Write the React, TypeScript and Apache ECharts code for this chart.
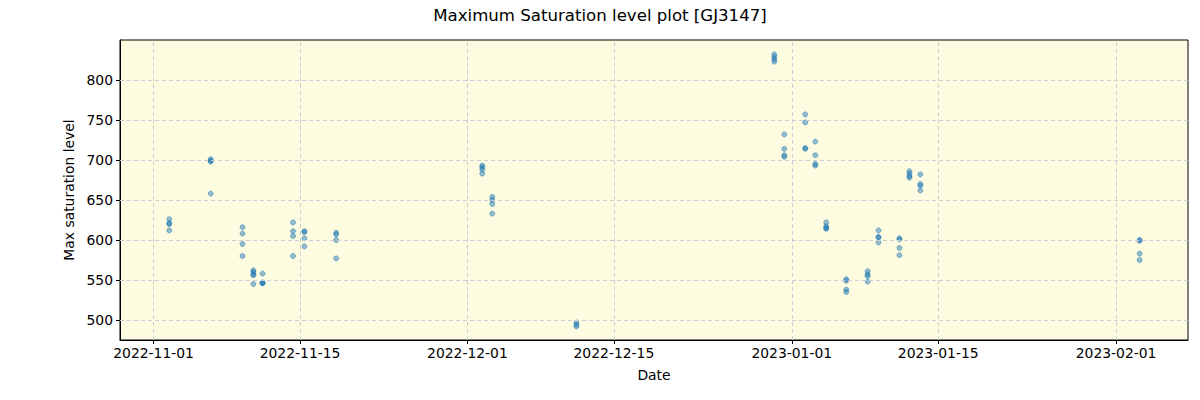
import React, { useEffect, useRef } from "react";
import * as echarts from "echarts";

const TITLE = "Maximum Saturation level plot [GJ3147]";
const X_NAME = "Date";
const Y_NAME = "Max saturation level";

const xTickLabels = [
  "2022-11-01",
  "2022-11-15",
  "2022-12-01",
  "2022-12-15",
  "2023-01-01",
  "2023-01-15",
  "2023-02-01",
];
const yTicks = [500, 550, 600, 650, 700, 750, 800];

const xRange = ["2022-10-28T19:00", "2023-02-07T21:00"];
const yRange = [475, 850];

const obsTimes = [
  "2022-11-02T12:00",
  "2022-11-06T11:00",
  "2022-11-09T12:00",
  "2022-11-10T13:00",
  "2022-11-11T10:00",
  "2022-11-14T08:00",
  "2022-11-15T10:00",
  "2022-11-18T11:00",
  "2022-12-02T10:00",
  "2022-12-03T09:00",
  "2022-12-11T10:00",
  "2022-12-30T08:00",
  "2022-12-31T07:00",
  "2023-01-02T07:00",
  "2023-01-03T06:00",
  "2023-01-04T07:00",
  "2023-01-06T05:00",
  "2023-01-08T06:00",
  "2023-01-09T07:00",
  "2023-01-11T07:00",
  "2023-01-12T06:00",
  "2023-01-13T07:00",
  "2023-02-03T06:00",
];

const obsValues = [
  [626, 621, 620, 612],
  [701, 699, 698, 658],
  [616, 608, 595, 580],
  [562, 560, 557, 556, 545],
  [558, 547, 546, 546],
  [622, 611, 605, 580],
  [611, 610, 602, 592],
  [609, 607, 600, 577],
  [693, 691, 688, 683],
  [654, 650, 645, 633],
  [497, 494, 492],
  [832, 829, 826, 823],
  [732, 714, 706, 704],
  [757, 747, 715, 714],
  [723, 706, 695, 693],
  [622, 617, 615, 614],
  [551, 549, 538, 535],
  [561, 557, 555, 548],
  [612, 604, 603, 597],
  [602, 601, 590, 581],
  [686, 683, 680, 678],
  [682, 670, 668, 662],
  [600, 599, 583, 575],
];

const toMs = (s: string) => Date.parse(s.length <= 10 ? s + "T00:00:00Z" : s + ":00Z");

export default function App() {
  const ref = useRef<HTMLDivElement>(null);

  useEffect(() => {
    document.body.style.margin = "0";
    if (!ref.current) return;
    const chart = echarts.init(ref.current, null, { renderer: "svg" });

    const points: [number, number][] = [];
    obsTimes.forEach((t, i) => {
      obsValues[i].forEach((v) => points.push([toMs(t), v]));
    });
    const xTickMs = xTickLabels.map(toMs);
    const gridLineStyle = { color: "#cdcdd8", type: [4, 3] as any, width: 1 };
    const font = "DejaVu Sans";

    chart.setOption({
      animation: false,
      textStyle: { fontFamily: font },
      title: {
        text: TITLE,
        left: "center",
        top: 2,
        textStyle: { fontFamily: font, fontSize: 16.6, fontWeight: "normal", color: "#000" },
      },
      grid: {
        left: 120,
        right: 12,
        top: 40,
        bottom: 60,
        show: true,
        backgroundColor: "#fdfce1",
        borderColor: "#000",
        borderWidth: 1,
      },
      xAxis: {
        type: "value",
        min: toMs(xRange[0]),
        max: toMs(xRange[1]),
        name: X_NAME,
        nameLocation: "middle",
        nameGap: 28,
        nameTextStyle: { fontFamily: font, fontSize: 13.9, color: "#000" },
        axisLine: { show: true, lineStyle: { color: "#000" } },
        axisTick: { show: true, inside: false, length: 4, customValues: xTickMs, lineStyle: { color: "#000" } },
        axisLabel: {
          show: true,
          customValues: xTickMs,
          fontFamily: font,
          fontSize: 13.9,
          color: "#000",
          margin: 6,
          formatter: (v: number) => new Date(v).toISOString().slice(0, 10),
        },
        splitLine: { show: false },
      },
      yAxis: {
        type: "value",
        min: yRange[0],
        max: yRange[1],
        name: Y_NAME,
        nameLocation: "middle",
        nameGap: 42,
        nameTextStyle: { fontFamily: font, fontSize: 13.9, color: "#000" },
        axisLine: { show: true, lineStyle: { color: "#000" } },
        axisTick: { show: true, inside: false, length: 4, customValues: yTicks, lineStyle: { color: "#000" } },
        axisLabel: {
          show: true,
          customValues: yTicks,
          fontFamily: font,
          fontSize: 13.9,
          color: "#000",
          margin: 7,
        },
        splitLine: { show: false },
      },
      series: [
        {
          type: "scatter",
          data: [],
          z: 1,
          silent: true,
          markLine: {
            silent: true,
            symbol: ["none", "none"],
            label: { show: false },
            lineStyle: gridLineStyle,
            data: [
              ...xTickMs.map((x) => ({ xAxis: x })),
              ...yTicks.map((y) => ({ yAxis: y })),
            ],
          },
        },
        {
          type: "scatter",
          z: 3,
          data: points,
          symbol: "circle",
          symbolSize: 5,
          itemStyle: {
            color: "rgba(31,119,180,0.6)",
            borderColor: "rgba(31,119,180,0.75)",
            borderWidth: 0.8,
          },
        },
      ],
    });

    return () => chart.dispose();
  }, []);

  return <div ref={ref} style={{ width: 1200, height: 400 }} />;
}
